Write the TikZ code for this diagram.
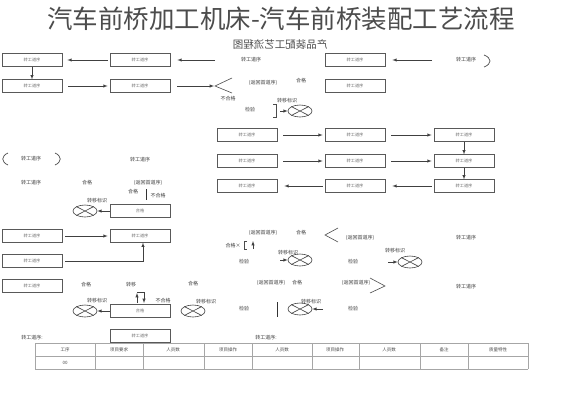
\documentclass[tikz,border=0pt]{standalone}
\usepackage{fontspec}
\usepackage{graphicx}
\usetikzlibrary{shapes.geometric}
\newfontfamily\cjk{Noto Sans CJK SC}
\tikzset{
  proc/.style={draw=black!65, line width=0.7pt, minimum width=60pt, minimum height=12.5pt, inner sep=0pt, font=\cjk\fontsize{4.2}{5}\selectfont, text=black!55},
  lbl/.style={font=\cjk\fontsize{5}{6}\selectfont, text=black!75, inner sep=0.5pt},
  cell/.style={font=\cjk\fontsize{4.5}{5}\selectfont, text=black!70, inner sep=0.5pt},
  arr/.style={-latex, draw=black!75, line width=0.5pt},
  tag/.style={ellipse, draw=black!75, line width=0.6pt, minimum width=24pt, minimum height=12pt, inner sep=0pt},
  grid/.style={draw=black!35, line width=0.7pt}
}
\begin{document}
\begin{tikzpicture}[x=1pt,y=-1pt]
\fill[white] (0,0) rectangle (562,400);
\useasboundingbox (0,0) rectangle (562,400);
% Title
\node[font=\cjk\fontsize{25.5}{28}\selectfont, text=black!70] (title) at (281,19) {汽车前桥加工机床-汽车前桥装配工艺流程};
\node[font=\cjk\fontsize{10.5}{12}\selectfont, text=black!70] (head) at (280,45) {\reflectbox{产品装配工艺流程图}};
% Nodes
\foreach \n/\x/\y in {A/32/60, B/140/60, C/355/60, D/32/86, E/140/86, F/355/86,
                      G/247/135, H/355/135, I/464/135, J/247/161, K/355/161, L/464/161,
                      M/247/186, N/355/186, O/464/186, R/32/236, S/140/236, T/32/261,
                      U/32/286, W/140/336} {
  \node[proc] (\n) at (\x,\y) {转工道序};
}
\node[proc] (P) at (140,211) {合格};
\node[proc] (V) at (140,311) {合格};
% Tags
\foreach \n/\x/\y in {t1/300/111, t2/85/211, t3/85/311, t4/193/311, t5/300/260, t6/410/262, t7/300/309} {
  \node[tag] (\n) at (\x,\y) {};
  \draw[line width=0.6pt, black!75] (\n.north west) -- (\n.south east) (\n.north east) -- (\n.south west);
}
% Labels
\foreach \n/\x/\y/\s in {lb1/251/60/转工道序, lb2/466/60/转工道序, lb3/228/99/不合格,
                         lb4/263/83/(返回首道序), lb5/301/81/合格, lb6/250/110/检验,
                         lb7/287/101/转移标识, lb8/31/159/转工道序, lb9/140/160/转工道序,
                         lb10/31/183/转工道序, lb11/87/183/合格, lb12/148/183/(返回首道序),
                         lb13/133/192/合格, lb14/158/196/不合格, lb15/97/201/转移标识,
                         lb16/86/285/合格, lb17/131/285/转移, lb18/163/301/不合格,
                         lb19/97/301/转移标识, lb20/206/302/转移标识, lb21/263/233/(返回首道序),
                         lb22/301/233/合格, lb23/360/238/(返回首道序), lb24/233/246/合格×,
                         lb25/288/253/转移标识, lb26/244/262/检验, lb27/353/262/检验,
                         lb28/466/238/转工道序, lb29/395/251/转移标识, lb30/193/284/合格,
                         lb31/271/283/(返回首道序), lb32/297/283/合格, lb33/356/283/(返回首道序),
                         lb34/466/287/转工道序, lb35/244/309/检验, lb36/311/302/转移标识,
                         lb37/353/309/检验, lb38/32/338/转工道序:, lb39/266/338/转工道序:} {
  \node[lbl] (\n) at (\x,\y) {\s};
}
% Edges
\coordinate (in1) at (215,60);
\coordinate (in2) at (432,60);
\coordinate (in3) at (280,111);
\coordinate (in4) at (280,260);
\coordinate (in5) at (388,262);
\coordinate (in6) at (323,309);
\coordinate (v1) at (214,86);
\draw[arr, shorten >=7pt] (in1) -- (B.east);
\draw[arr, shorten >=7pt] (in2) -- (C.east);
\draw[arr, shorten >=5pt, shorten <=2pt] (B) -- (A);
\draw[arr] (A) -- (D);
\draw[arr, shorten <=6pt, shorten >=2pt] (D) -- (E);
\draw[arr, shorten <=7pt] (E.east) -- (v1);
\foreach \a/\b in {G/H, H/I, J/K, K/L} {
  \draw[arr, shorten <=6pt, shorten >=2pt] (\a) -- (\b);
}
\foreach \a/\b in {N/M, O/N} {
  \draw[arr, shorten <=2pt, shorten >=7pt] (\a) -- (\b);
}
\draw[arr] (I) -- (L);
\draw[arr] (L) -- (O);
\draw[arr, shorten <=3pt, shorten >=2pt] (R) -- (S);
\draw[arr, shorten <=3pt] (T.east) -| ([xshift=3pt]S.south);
\draw[arr] (P) -- (t2);
\draw[arr] (V) -- (t3);
\draw[arr] (in3) -- (t1);
\draw[arr] (in4) -- (t5);
\draw[arr] (in5) -- (t6);
\draw[arr] (in6) -- (t7);
% Brackets and small marks
\draw[black!70, line width=0.7pt] (484,55) .. controls (492,58) and (492,64) .. (484,67);
\draw[black!70, line width=0.7pt] (8,153) .. controls (1,156) and (1,162) .. (8,165);
\draw[black!70, line width=0.7pt] (55,153) .. controls (62,156) and (62,162) .. (55,165);
\draw[black!70, line width=0.6pt] (232,78) -- (215,86) -- (232,93);
\draw[black!70, line width=0.6pt] (338,228) -- (325,235) -- (338,242);
\draw[black!70, line width=0.6pt] (370,278) -- (385,286) -- (370,293);
\draw[black!70, line width=0.6pt] (273,104) -- (276,104) -- (276,117) -- (273,117);
\draw[black!70, line width=0.6pt] (247,241) -- (244,241) -- (244,249) -- (247,249);
\draw[arr] (253,249) -- (253,241);
\draw[black!80, line width=1pt] (146,189) -- (146,200);
\draw[black!80, line width=0.8pt] (277,302) -- (277,317);
\draw[arr] (137,303) -- (137,293);
\draw[black!75, line width=0.5pt] (137,292) -- (144,292);
\draw[arr] (144,292) -- (144,303);
% Table
\foreach \x in {35,95,143,204,252,312,359,420,468,528} {
  \draw[grid] (\x,343) -- (\x,369);
}
\foreach \y in {343,356,369} {
  \draw[grid] (35,\y) -- (528,\y);
}
\foreach \n/\x/\s in {h1/65/工序, h2/119/项目要求, h3/173/人员数, h4/228/项目操作, h5/282/人员数,
                      h6/335/项目操作, h7/389/人员数, h8/444/备注, h9/498/质量特性} {
  \node[cell] (\n) at (\x,349.5) {\s};
}
\node[cell] (r1) at (65,362.5) {00};
\end{tikzpicture}
\end{document}
